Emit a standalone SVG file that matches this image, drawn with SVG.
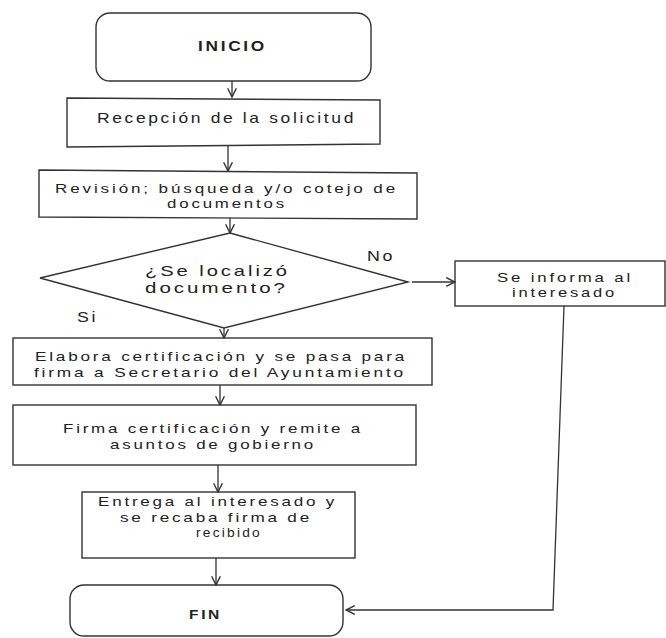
<svg xmlns="http://www.w3.org/2000/svg" width="666" height="638" viewBox="0 0 666 638">
<defs>
<marker id="ah" viewBox="0 0 10 10" refX="9" refY="5" markerWidth="11" markerHeight="11" markerUnits="userSpaceOnUse" orient="auto">
<path d="M1,1 L9,5 L1,9" fill="none" stroke="#333" stroke-width="1.3"/>
</marker>
<style>
.b{fill:#fff;stroke:#333;stroke-width:1.4}
.t{font-family:"Liberation Sans",Arial,sans-serif;fill:#222;letter-spacing:2.2px}
.bold{font-weight:bold}
.c{fill:none;stroke:#333;stroke-width:1.3}
</style>
</defs>
<rect width="666" height="638" fill="#fff"/>
<g id="inicio">
<rect class="b" x="96" y="13" width="275" height="68" rx="14"/>
<text class="t bold" x="198" y="51" font-size="14" textLength="69" lengthAdjust="spacingAndGlyphs">INICIO</text>
</g>
<g id="recepcion">
<path class="b" d="M67,98 L380,100 L380,144 L67,147 Z"/>
<text class="t" x="97" y="123" font-size="14.5" textLength="259" lengthAdjust="spacingAndGlyphs">Recepción de la solicitud</text>
</g>
<g id="revision">
<path class="b" d="M39,170 L417,173 L417,219 L39,217 Z"/>
<text class="t" x="55" y="193" font-size="13" textLength="343" lengthAdjust="spacingAndGlyphs">Revisión; búsqueda y/o cotejo de</text>
<text class="t" x="167" y="208" font-size="13" textLength="120" lengthAdjust="spacingAndGlyphs">documentos</text>
</g>
<g id="decision">
<polygon class="b" points="230,233 408,282 224,328 40,278"/>
<text class="t" x="145" y="276" font-size="15" textLength="145" lengthAdjust="spacingAndGlyphs">¿Se localizó</text>
<text class="t" x="145" y="293" font-size="15" textLength="143" lengthAdjust="spacingAndGlyphs">documento?</text>
</g>
<g id="informa">
<rect class="b" x="455" y="261" width="210" height="45"/>
<text class="t" x="497" y="282" font-size="13" textLength="136" lengthAdjust="spacingAndGlyphs">Se informa al</text>
<text class="t" x="512" y="297" font-size="13" textLength="105" lengthAdjust="spacingAndGlyphs">interesado</text>
</g>
<g id="elabora">
<rect class="b" x="13" y="338" width="419" height="47"/>
<text class="t" x="35" y="361" font-size="13.5" textLength="372" lengthAdjust="spacingAndGlyphs">Elabora certificación y se pasa para</text>
<text class="t" x="34" y="376.5" font-size="13.5" textLength="372" lengthAdjust="spacingAndGlyphs">firma a Secretario del Ayuntamiento</text>
</g>
<g id="firma">
<rect class="b" x="13" y="405" width="403" height="60"/>
<text class="t" x="63" y="433" font-size="13.5" textLength="300" lengthAdjust="spacingAndGlyphs">Firma certificación y remite a</text>
<text class="t" x="110" y="448.5" font-size="13.5" textLength="206" lengthAdjust="spacingAndGlyphs">asuntos de gobierno</text>
</g>
<g id="entrega">
<rect class="b" x="82" y="492" width="273" height="66"/>
<text class="t" x="98" y="506" font-size="13.5" textLength="239" lengthAdjust="spacingAndGlyphs">Entrega al interesado y</text>
<text class="t" x="120" y="521.5" font-size="13.5" textLength="192" lengthAdjust="spacingAndGlyphs">se recaba firma de</text>
<text class="t" x="196" y="537" font-size="13.5" textLength="66" lengthAdjust="spacingAndGlyphs">recibido</text>
</g>
<g id="fin">
<rect class="b" x="70" y="585" width="273" height="51" rx="14"/>
<text class="t bold" x="189" y="619" font-size="13" textLength="33" lengthAdjust="spacingAndGlyphs">FIN</text>
</g>
<g id="connectors">
<line class="c" x1="232" y1="81" x2="232" y2="97" marker-end="url(#ah)"/>
<line class="c" x1="228" y1="146" x2="228" y2="171" marker-end="url(#ah)"/>
<line class="c" x1="230" y1="218" x2="230" y2="233" marker-end="url(#ah)"/>
<line class="c" x1="224" y1="328" x2="224" y2="338" marker-end="url(#ah)"/>
<line class="c" x1="412" y1="282" x2="455" y2="282" marker-end="url(#ah)"/>
<line class="c" x1="220" y1="385" x2="220" y2="405" marker-end="url(#ah)"/>
<line class="c" x1="218" y1="465" x2="218" y2="492" marker-end="url(#ah)"/>
<line class="c" x1="216" y1="558" x2="216" y2="585" marker-end="url(#ah)"/>
<polyline class="c" points="564,306 553,610 346,610" marker-end="url(#ah)"/>
</g>
<g id="labels">
<text class="t" x="367" y="261" font-size="15" textLength="28" lengthAdjust="spacingAndGlyphs">No</text>
<text class="t" x="77" y="322" font-size="15" textLength="21" lengthAdjust="spacingAndGlyphs">Si</text>
</g>
</svg>
